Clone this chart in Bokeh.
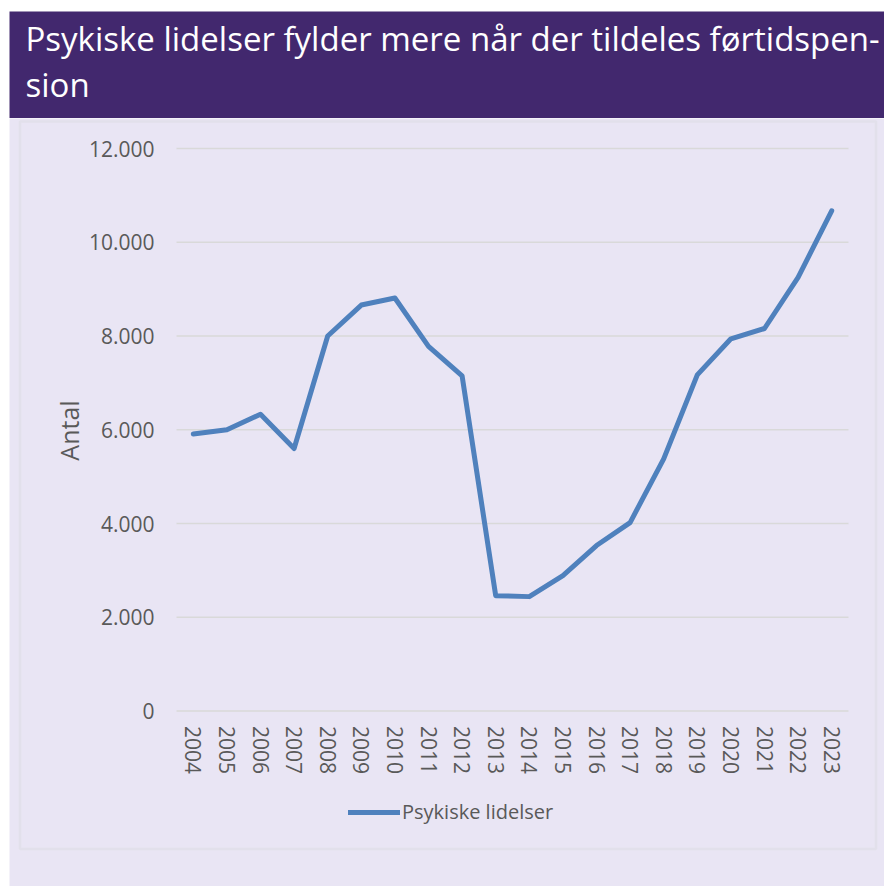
import math
from bokeh.plotting import figure
from bokeh.layouts import row, column
from bokeh.models import (Label, Legend, LegendItem, FixedTicker, LinearAxis,
                          Range1d, ColumnDataSource, BoxAnnotation)
from bokeh.embed import file_html
from bokeh.resources import INLINE

title_lines = ["Psykiske lidelser fylder mere når der tildeles førtidspen-", "sion"]
years = list(range(2004, 2024))
values = [5910, 6000, 6330, 5600, 8000, 8660, 8810, 7780, 7150, 2460,
          2440, 2890, 3530, 4020, 5380, 7170, 7940, 8160, 9250, 10670]
series_name = "Psykiske lidelser"
y_axis_label = "Antal"
y_ticks = [0, 2000, 4000, 6000, 8000, 10000, 12000]
y_tick_labels = ["0", "2.000", "4.000", "6.000", "8.000", "10.000", "12.000"]

BG = "#E9E5F4"
PURPLE = "#42286E"
GRID = "#D9D9D9"
BORDER = "#D5D5D7"
TEXT = "#595959"
LINE = "#4F81BD"
FONT = "Open Sans"

def bare(fig):
    fig.outline_line_color = None
    fig.min_border_left = fig.min_border_right = 0
    fig.min_border_top = fig.min_border_bottom = 0
    return fig

# white page strip on the left
strip = bare(figure(width=9, height=886, x_range=(0, 1), y_range=(0, 1),
                    x_axis_type=None, y_axis_type=None, title=None,
                    output_backend="svg", toolbar_location=None))
strip.background_fill_color = "white"
strip.border_fill_color = "white"

# title bar
tfig = bare(figure(width=875, height=118, x_range=(0, 1), y_range=(0, 1),
                   x_axis_type=None, y_axis_type=None, title=None,
                   output_backend="svg", toolbar_location=None))
tfig.min_border_top = 11
tfig.background_fill_color = PURPLE
tfig.border_fill_color = "white"
for i, t in enumerate(title_lines):
    tfig.add_layout(Label(x=16, y=80 - 46 * i, x_units="screen", y_units="screen",
                          text=t, text_color="white", text_font=FONT,
                          text_font_size="33px", text_baseline="alphabetic"))

# chart: frame = whole lavender area (page x 9..884, y 118..886)
x0, x1 = years[0] - 0.5, years[-1] + 0.5
px_per_year = 672 / len(years)
xs = x0 - (176 - 9) / px_per_year
xe = x1 + (884 - 848) / px_per_year
py = 562.5 / 12000
ys = 0 - (886 - 710.5) / py
ye = 12000 + (148 - 118) / py

p = bare(figure(width=875, height=768, x_range=Range1d(xs, xe), y_range=Range1d(ys, ye),
                x_axis_type=None, y_axis_type=None, title=None,
                output_backend="svg", toolbar_location=None))
p.background_fill_color = BG
p.border_fill_color = BG
p.xgrid.visible = False
p.ygrid.visible = False

# grey chart-area border (canvas pixels)
p.add_layout(BoxAnnotation(left=10.5, right=866.5, top=3, bottom=730.5,
                           left_units="canvas", right_units="canvas",
                           top_units="canvas", bottom_units="canvas",
                           fill_alpha=0, line_color=BORDER, line_width=2.5))

p.segment(x0=[x0] * len(y_ticks), x1=[x1] * len(y_ticks), y0=y_ticks, y1=y_ticks,
          line_color=GRID, line_width=1.5)

src = ColumnDataSource(dict(year=years, value=values))
r = p.line(x="year", y="value", source=src, line_width=5, line_color=LINE,
           line_join="round", line_cap="round")

yaxis = LinearAxis(fixed_location=x0, ticker=FixedTicker(ticks=y_ticks),
                   major_label_overrides={t: l for t, l in zip(y_ticks, y_tick_labels)})
xaxis = LinearAxis(fixed_location=0, ticker=FixedTicker(ticks=years),
                   major_label_overrides={y: str(y) for y in years})
for ax in (xaxis, yaxis):
    ax.axis_line_color = None
    ax.major_tick_line_color = None
    ax.minor_tick_line_color = None
    ax.major_tick_in = 0
    ax.major_tick_out = 0
    ax.major_label_text_color = TEXT
    ax.major_label_text_font = FONT
    ax.major_label_text_font_size = "21px"
yaxis.major_label_standoff = 22
xaxis.major_label_standoff = 15
xaxis.major_label_orientation = "vertical"
p.add_layout(yaxis, "left")
p.add_layout(xaxis, "below")

# y-axis title, centred where the reference shows it
p.add_layout(Label(x=59, y=456, x_units="screen", y_units="screen",
                   text=y_axis_label, angle=math.pi / 2, text_align="center",
                   text_baseline="middle", text_font=FONT, text_font_size="25px",
                   text_color=TEXT))

legend = Legend(items=[LegendItem(label=series_name, renderers=[r])],
                location=(339, 61), orientation="horizontal",
                padding=0, margin=0, border_line_alpha=0,
                background_fill_alpha=0, glyph_width=52, glyph_height=20,
                label_standoff=2, label_text_font=FONT,
                label_text_font_size="20px", label_text_color=TEXT)
p.add_layout(legend, "center")

layout = row(strip, column(tfig, p, spacing=0), spacing=0)
open("out.html", "w").write(file_html(layout, INLINE))
